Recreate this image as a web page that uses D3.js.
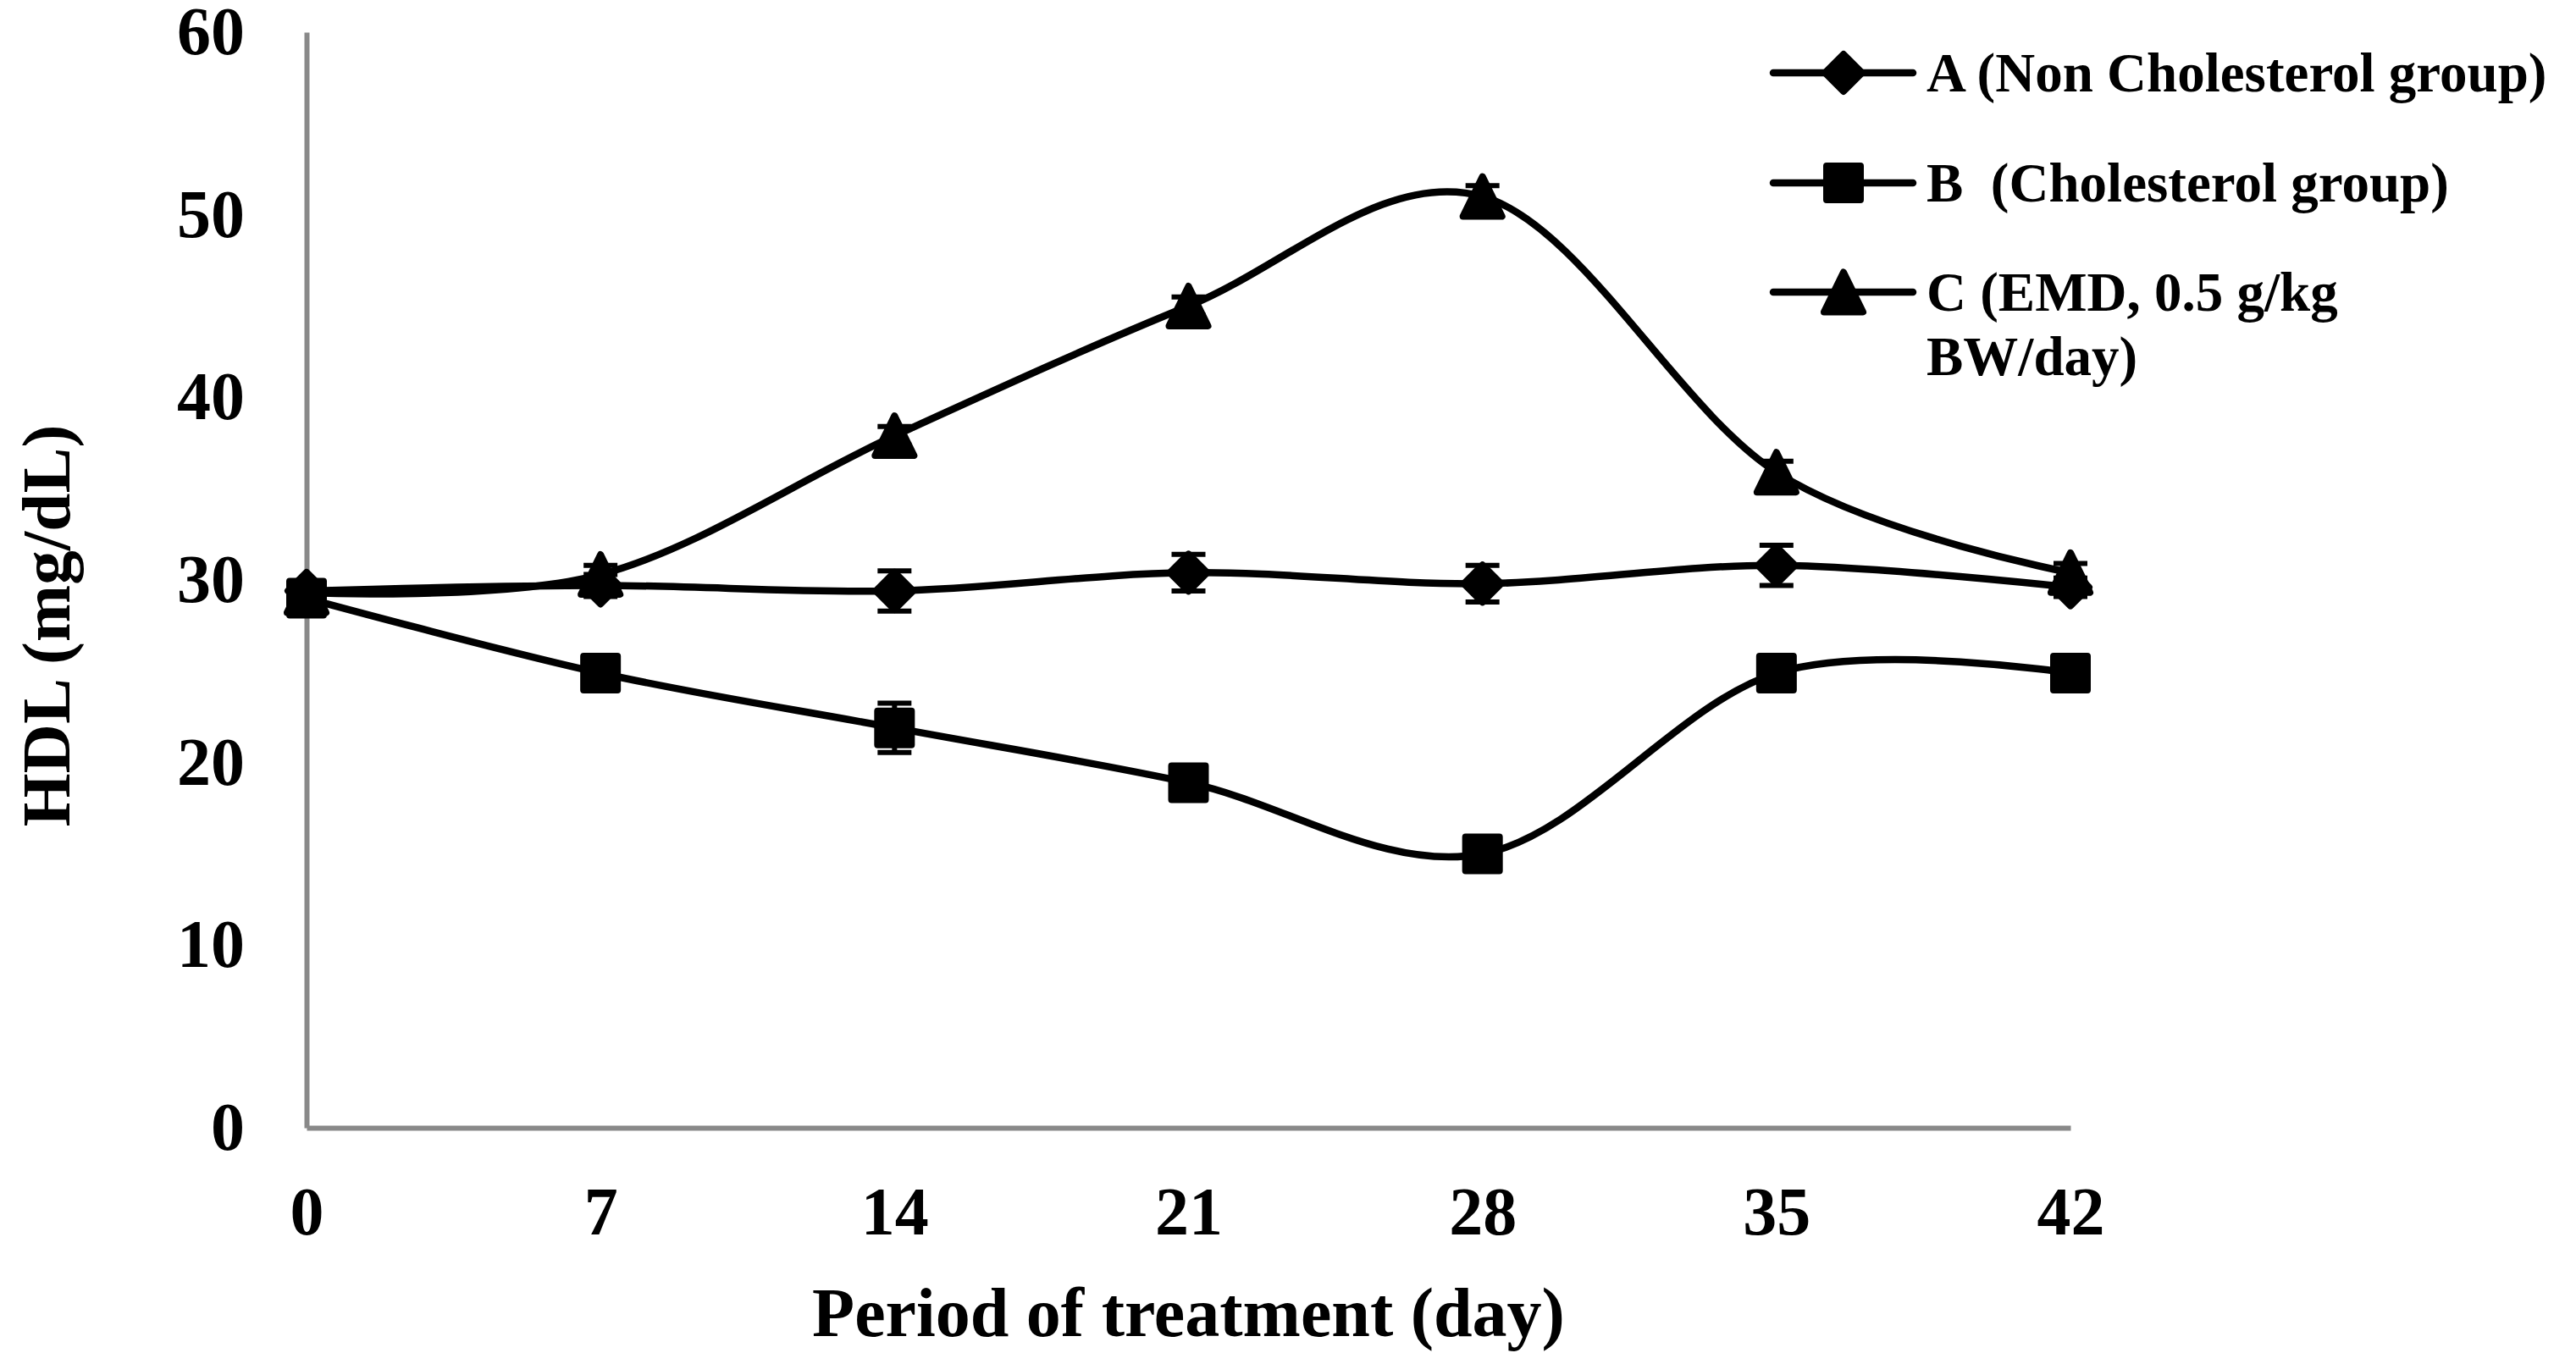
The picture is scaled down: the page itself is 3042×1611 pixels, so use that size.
<!DOCTYPE html>
<html>
<head>
<meta charset="utf-8">
<script src="https://cdn.jsdelivr.net/npm/d3@7"></script>
<style>
  body { margin: 0; background: #fff; }
  svg text { font-family: "Liberation Serif", "Times New Roman", serif; font-weight: bold; fill: #000; }
</style>
</head>
<body>
<svg id="chart"></svg>
<script>
// values
const days = [0, 7, 14, 21, 28, 35, 42];
const groupA = [29.4, 29.7, 29.4, 30.4, 29.8, 30.8, 29.6];
const groupB = [29.0, 24.9, 21.9, 18.9, 15.0, 24.9, 24.9];
const groupC = [29.3, 30.3, 37.9, 45.0, 51.0, 35.9, 30.4];
const errA = [0.5, 0.6, 1.1, 1.0, 1.0, 1.1, 0.5];
const errB = [0.5, 0.6, 1.35, 0.8, 0.6, 0.8, 0.6];
const errC = [0.5, 0.5, 0.5, 0.5, 0.6, 0.6, 0.5];
const yTicks = [0, 10, 20, 30, 40, 50, 60];
const legendLabels = [["A (Non Cholesterol group)"], ["B  (Cholesterol group)"], ["C (EMD, 0.5 g/kg", "BW/day)"]];

const width = 3042, height = 1611;
const axisGrey = "#898989";

const svg = d3.select("#chart")
  .attr("width", width)
  .attr("height", height);

svg.append("rect").attr("width", width).attr("height", height).attr("fill", "#fff");

const x = d3.scaleLinear().domain([0, 42]).range([362, 2445]);
const y = d3.scaleLinear().domain([0, 60]).range([1332, 38]);

// marker shapes, Excel-like
const diamond = {
  draw(ctx, size) {
    const r = Math.sqrt(size) / 2;
    ctx.moveTo(0, -r); ctx.lineTo(r, 0); ctx.lineTo(0, r); ctx.lineTo(-r, 0); ctx.closePath();
  }
};
const square = {
  draw(ctx, size) {
    const r = Math.sqrt(size) / 2;
    ctx.rect(-r, -r, 2 * r, 2 * r);
  }
};
const triangle = {
  draw(ctx, size) {
    const r = Math.sqrt(size) / 2;
    ctx.moveTo(0, -r); ctx.lineTo(r * 0.98, r); ctx.lineTo(-r * 0.98, r); ctx.closePath();
  }
};

const series = [
  { vals: groupA, err: errA, shape: diamond, size: 44 * 44 },
  { vals: groupB, err: errB, shape: square, size: 40 * 40 },
  { vals: groupC, err: errC, shape: triangle, size: 47 * 47 }
];

// axes
const yAxis = d3.axisLeft(y).tickValues(yTicks).tickSize(0).tickPadding(73);
const xAxis = d3.axisBottom(x).tickValues(days).tickSize(0).tickPadding(69);

const gy = svg.append("g").attr("transform", `translate(${x(0)},0)`).call(yAxis);
const gx = svg.append("g").attr("transform", `translate(0,${y(0)})`).call(xAxis);
[gx, gy].forEach(g => {
  g.select(".domain").attr("stroke", axisGrey).attr("stroke-width", 6);
  g.selectAll("text").style("font-size", "80px").attr("fill", "#000");
});

svg.append("text")
  .attr("transform", "translate(82,739) rotate(-90)")
  .attr("text-anchor", "middle")
  .style("font-size", "81px")
  .text("HDL (mg/dL)");

svg.append("text")
  .attr("x", (x(0) + x(42)) / 2)
  .attr("y", 1578)
  .attr("text-anchor", "middle")
  .style("font-size", "82px")
  .text("Period of treatment (day)");

const line = d3.line()
  .x((d, i) => x(days[i]))
  .y(d => y(d))
  .curve(d3.curveCardinal.tension(0));

series.forEach(s => {
  svg.append("path")
    .datum(s.vals)
    .attr("d", line)
    .attr("fill", "none")
    .attr("stroke", "#000")
    .attr("stroke-width", 8.5);
});

// error bars
series.forEach(s => {
  const g = svg.append("g").attr("stroke", "#000").attr("stroke-width", 6);
  s.vals.forEach((v, i) => {
    const cx = x(days[i]);
    g.append("line").attr("x1", cx).attr("x2", cx).attr("y1", y(v - s.err[i])).attr("y2", y(v + s.err[i]));
    g.append("line").attr("x1", cx - 20).attr("x2", cx + 20).attr("y1", y(v + s.err[i])).attr("y2", y(v + s.err[i]));
    g.append("line").attr("x1", cx - 20).attr("x2", cx + 20).attr("y1", y(v - s.err[i])).attr("y2", y(v - s.err[i]));
  });
});

// markers
series.forEach(s => {
  svg.append("g").selectAll("path")
    .data(s.vals)
    .join("path")
    .attr("d", d3.symbol().type(s.shape).size(s.size))
    .attr("transform", (d, i) => `translate(${x(days[i])},${y(d)})`)
    .attr("fill", "#000")
    .attr("stroke", "#000")
    .attr("stroke-width", 8)
    .attr("stroke-linejoin", "round");
});

// legend
const legendY = [86, 216, 345];
series.forEach((s, i) => {
  const g = svg.append("g").attr("transform", `translate(0,${legendY[i]})`);
  g.append("line").attr("x1", 2094).attr("x2", 2259)
    .attr("stroke", "#000").attr("stroke-width", 8.5).attr("stroke-linecap", "round");
  g.append("path")
    .attr("d", d3.symbol().type(s.shape).size(s.size))
    .attr("transform", "translate(2177,0)")
    .attr("fill", "#000").attr("stroke", "#000").attr("stroke-width", 8).attr("stroke-linejoin", "round");
  legendLabels[i].forEach((t, j) => {
    g.append("text")
      .attr("x", 2275)
      .attr("y", 22 + j * 76)
      .attr("xml:space", "preserve")
      .style("white-space", "pre")
      .style("font-size", "65px")
      .text(t);
  });
});
</script>
</body>
</html>
